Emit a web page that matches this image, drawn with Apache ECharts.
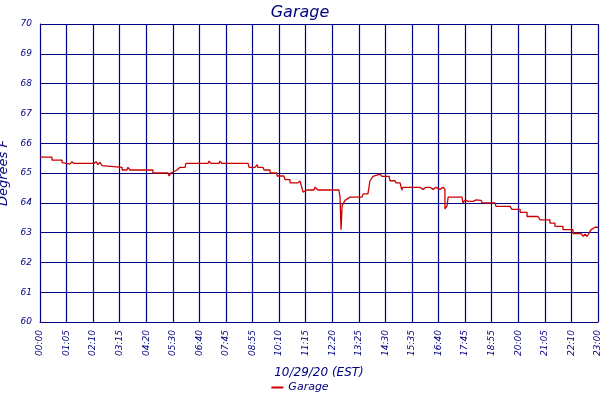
<!DOCTYPE html><html><head><meta charset="utf-8"><script src="https://cdn.jsdelivr.net/npm/echarts@6/dist/echarts.min.js"></script></head><body style="margin:0;background:#fff"><div id="c" style="width:600px;height:400px"></div><script>
const xLabels=['00:00','01:05','02:10','03:15','04:20','05:30','06:40','07:45','08:55','10:10','11:15','12:20','13:25','14:30','15:35','16:40','17:45','18:55','20:00','21:05','22:10','23:00'];
const yLabels=['60','61','62','63','64','65','66','67','68','69','70'];
const tIdx=[0,0.45,0.45,0.83,0.83,0.98,1.05,1.13,1.20,1.28,2.03,2.11,2.18,2.26,2.33,2.37,3.09,3.09,3.27,3.31,3.39,4.25,4.25,4.82,4.86,4.93,4.97,5.16,5.27,5.46,5.49,6.32,6.36,6.44,6.74,6.77,6.85,7.83,7.87,8.09,8.17,8.20,8.39,8.43,8.66,8.66,8.92,8.92,9.18,9.22,9.41,9.41,9.71,9.79,9.90,10.05,10.31,10.35,10.46,11.25,11.29,11.33,11.37,11.48,11.67,12.12,12.16,12.34,12.42,12.53,12.80,12.87,13.14,13.17,13.36,13.40,13.55,13.62,13.66,14.30,14.41,14.53,14.68,14.79,14.90,15.05,15.17,15.24,15.24,15.32,15.36,15.88,15.92,16.00,16.11,16.18,16.30,16.41,16.60,16.64,17.12,17.16,17.69,17.76,18.07,18.07,18.33,18.33,18.74,18.82,19.19,19.19,19.38,19.38,19.68,19.68,20.06,20.06,20.36,20.44,20.51,20.59,20.66,20.74,20.89,21];
const temps=[65.53,65.53,65.43,65.43,65.35,65.32,65.38,65.30,65.38,65.32,65.32,65.38,65.28,65.36,65.25,65.19,65.19,65.1,65.1,65.19,65.1,65.1,65.0,65.0,64.9,65.0,65.05,65.1,65.19,65.19,65.32,65.32,65.4,65.32,65.32,65.4,65.32,65.32,65.19,65.19,65.28,65.19,65.19,65.1,65.1,65.0,65.0,64.9,64.9,64.78,64.78,64.67,64.67,64.73,64.36,64.43,64.43,64.52,64.43,64.43,64.2,63.1,63.91,64.08,64.19,64.19,64.3,64.3,64.74,64.89,64.96,64.89,64.89,64.74,64.74,64.67,64.67,64.43,64.52,64.52,64.45,64.52,64.52,64.45,64.52,64.45,64.52,64.45,63.8,63.9,64.19,64.19,64.0,64.1,64.05,64.1,64.05,64.1,64.08,64.0,64.0,63.88,63.88,63.78,63.78,63.68,63.68,63.54,63.54,63.43,63.43,63.32,63.32,63.21,63.21,63.1,63.1,62.97,62.97,62.87,62.95,62.87,62.87,63.1,63.18,63.18];
const navy='#000080',font='DejaVu Sans';
const ch=echarts.init(document.getElementById('c'));
ch.setOption({animation:false,backgroundColor:'#fff',
title:{text:'Garage',left:'center',top:0,textStyle:{color:navy,fontFamily:font,fontStyle:'italic',fontWeight:'normal',fontSize:16}},
grid:{left:40,right:2,top:24,bottom:78,containLabel:false,outerBoundsMode:'none'},
legend:{bottom:2,left:'center',data:['Garage'],icon:'rect',itemWidth:12,itemHeight:2,textStyle:{color:navy,fontFamily:font,fontStyle:'italic',fontSize:11}},
xAxis:{type:'value',min:0,max:21,interval:1,name:'10/29/20 (EST)',nameLocation:'middle',nameGap:45,nameTextStyle:{color:navy,fontFamily:font,fontStyle:'italic',fontSize:12},
axisLine:{lineStyle:{color:navy}},axisTick:{show:false},splitLine:{lineStyle:{color:navy,width:1.2}},
axisLabel:{rotate:90,fontSize:9,color:navy,fontFamily:font,fontStyle:'italic',formatter:v=>xLabels[Math.round(v)]}},
yAxis:{type:'value',min:60,max:70,interval:1,name:'Degrees F',nameLocation:'middle',nameGap:26,nameTextStyle:{color:navy,fontFamily:font,fontStyle:'italic',fontSize:13},
axisLine:{show:true,lineStyle:{color:navy}},axisTick:{show:false},splitLine:{lineStyle:{color:navy,width:1.2}},
axisLabel:{fontSize:9,color:navy,fontFamily:font,fontStyle:'italic',formatter:v=>yLabels[v-60]}},
series:[{name:'Garage',type:'line',showSymbol:false,color:'#cc0000',lineStyle:{width:1.3},data:tIdx.map((t,i)=>[t,temps[i]])}]});
</script></body></html>
